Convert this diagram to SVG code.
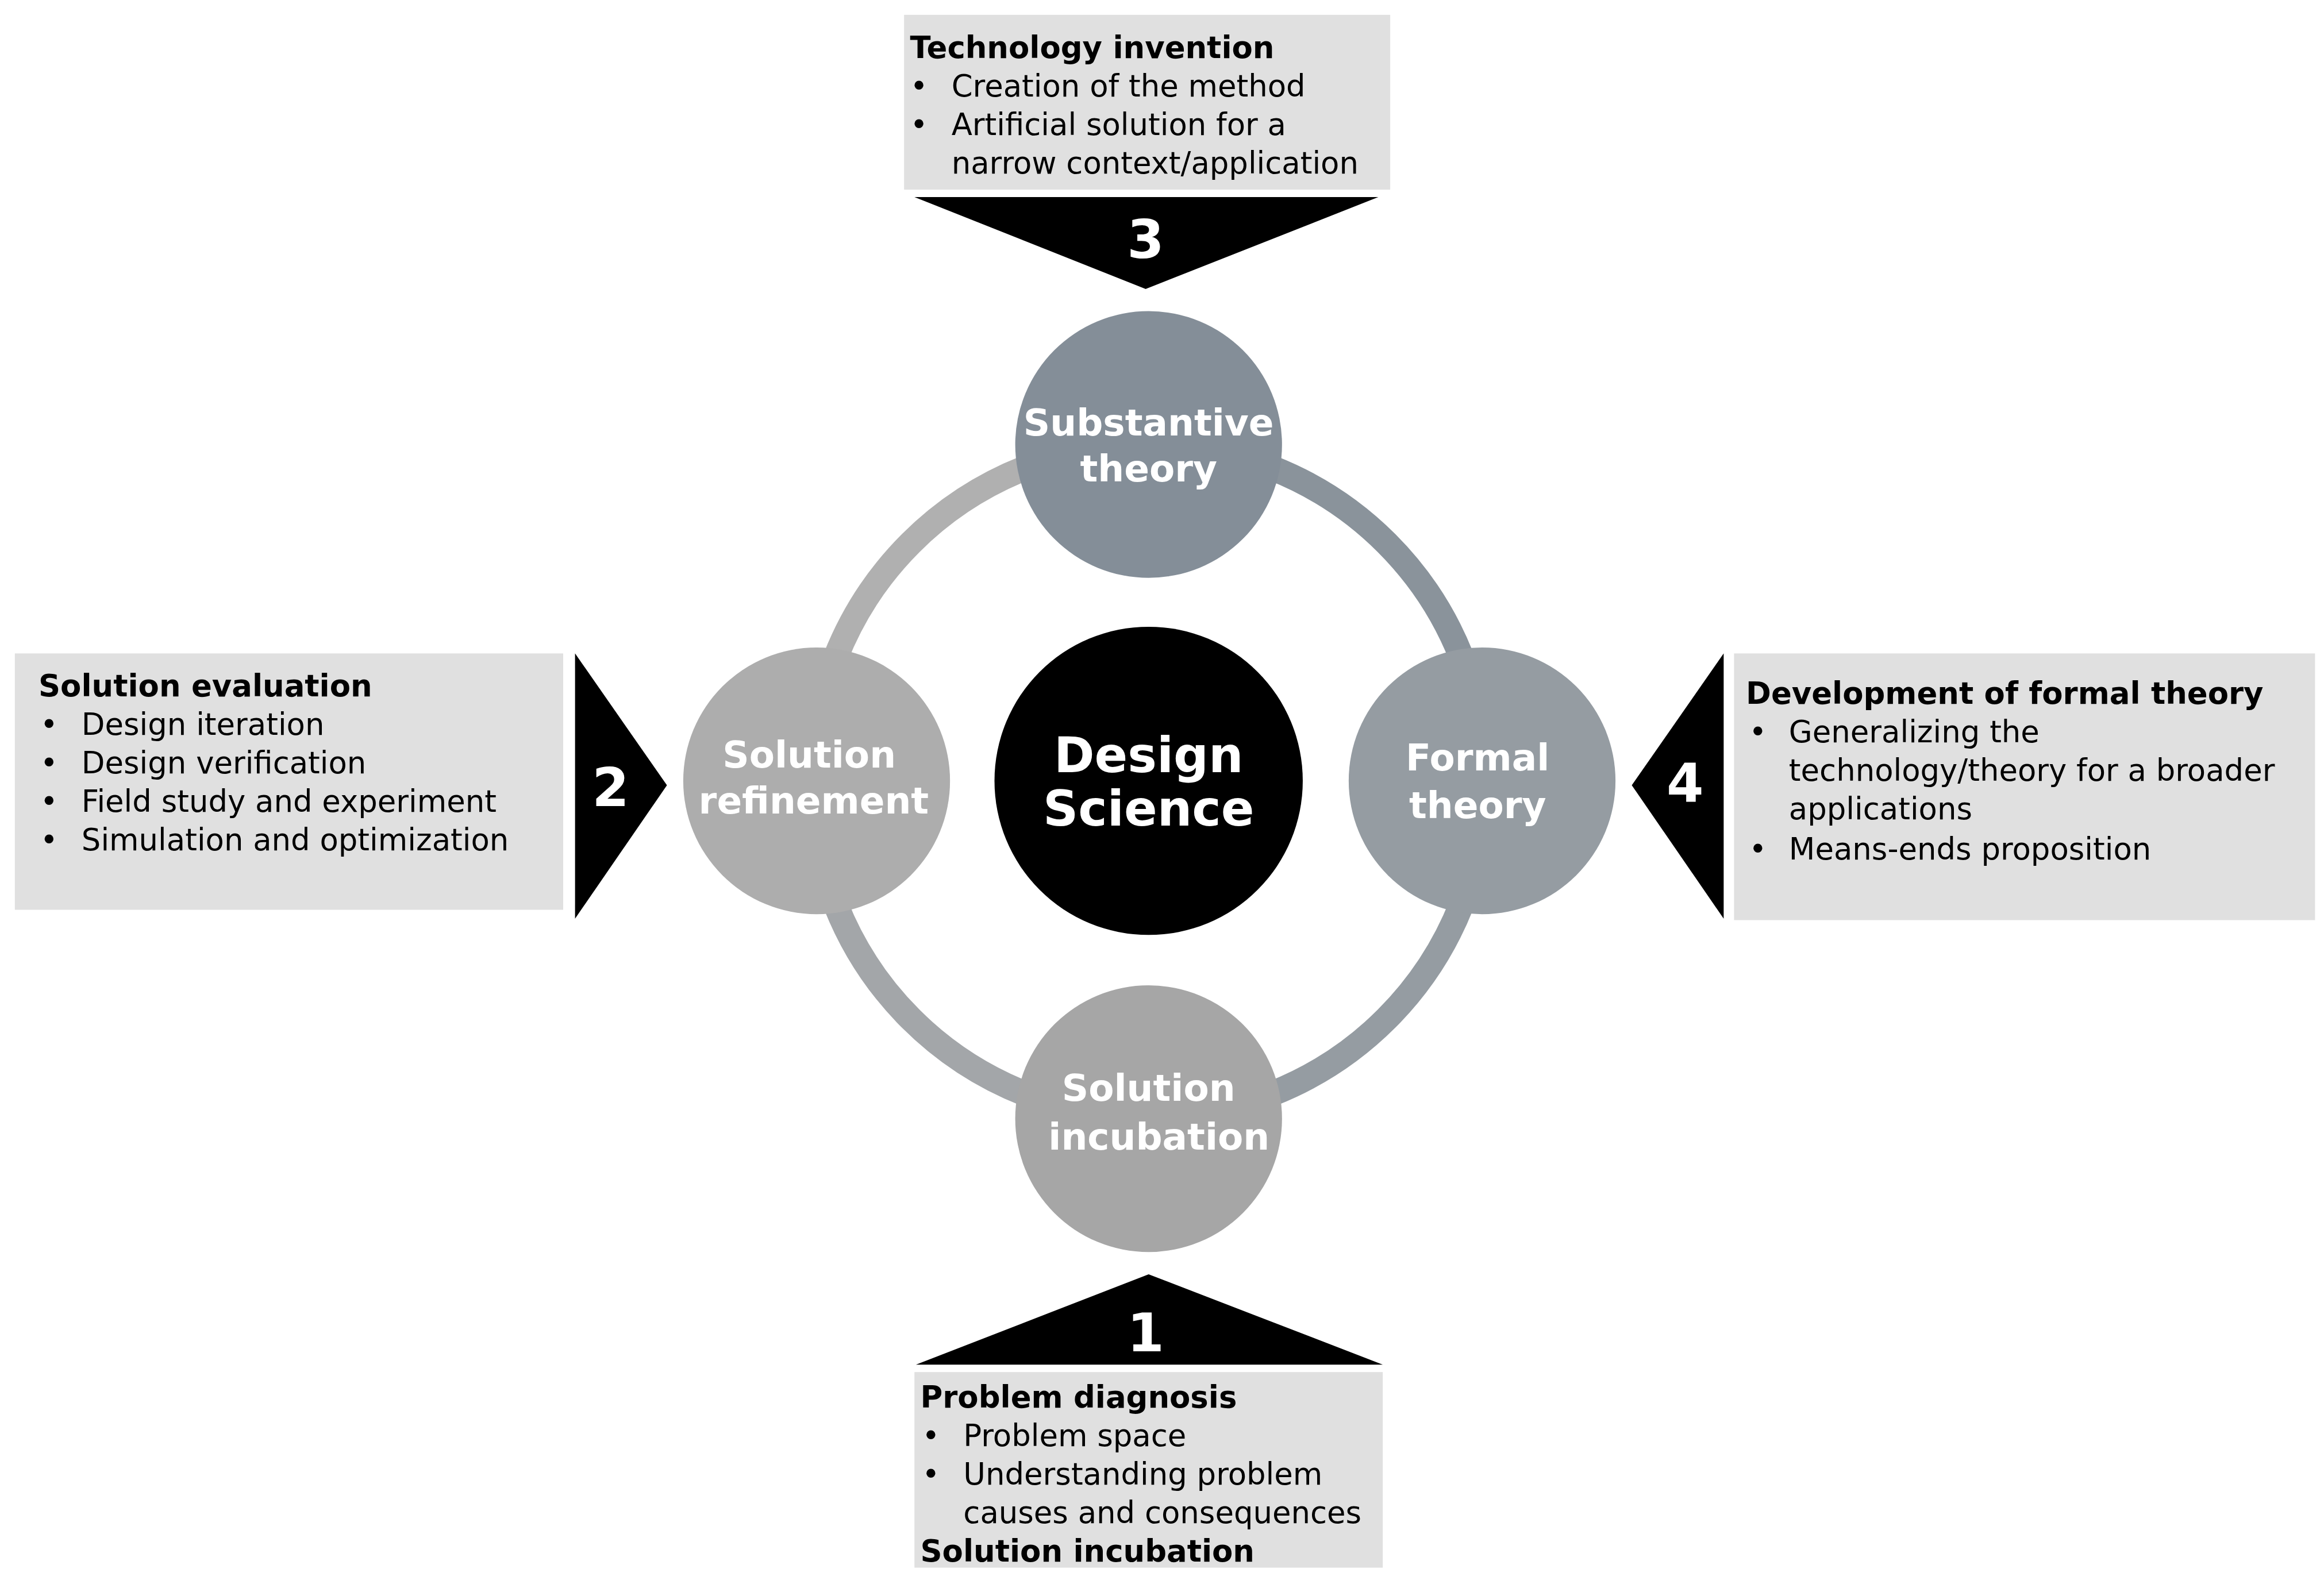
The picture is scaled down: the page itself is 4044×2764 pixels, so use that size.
<svg xmlns="http://www.w3.org/2000/svg" width="4044" height="2764" viewBox="0 0 4044 2764">
<style>
.box{fill:#e0e0e0}
.tri{fill:#000}
.t{font-family:"DejaVu Sans",Verdana,sans-serif;font-size:20.5px;fill:#000}
.b{font-weight:bold}
.num{font-family:"DejaVu Sans",Verdana,sans-serif;font-size:36px;font-weight:bold;fill:#fff;text-anchor:middle}
.cl{font-family:"DejaVu Sans",Verdana,sans-serif;font-size:25px;font-weight:bold;fill:#fff;text-anchor:middle}
.arc{fill:none;stroke-width:17}
</style>
<rect width="4044" height="2764" fill="#fff"/>
<g transform="scale(2.579)">
<g id="connectors">
<path class="arc" stroke="#b0b0b0" d="M548,527 A227,227 0 0 1 775,300"/>
<path class="arc" stroke="#8a939b" d="M775,300 A227,227 0 0 1 1002,527"/>
<path class="arc" stroke="#959ca2" d="M1002,527 A227,227 0 0 1 775,754"/>
<path class="arc" stroke="#a3a6a9" d="M775,754 A227,227 0 0 1 548,527"/>
</g>
<g id="center"><circle cx="775" cy="527" r="104" fill="#000"/>
<text class="cl" style="font-size:33px" x="775" y="521">Design</text>
<text class="cl" style="font-size:33px" x="775" y="557">Science</text></g>
<g id="substantive"><circle cx="775" cy="300" r="90" fill="#848e98"/>
<text class="cl" x="775" y="294">Substantive</text><text class="cl" x="775" y="325">theory</text></g>
<g id="refinement"><circle cx="551" cy="527" r="90" fill="#adadad"/>
<text class="cl" x="546" y="518">Solution</text><text class="cl" x="549" y="549">refinement</text></g>
<g id="formal"><circle cx="1000" cy="527" r="90" fill="#959ca2"/>
<text class="cl" x="997" y="520">Formal</text><text class="cl" x="997" y="552">theory</text></g>
<g id="incubation"><circle cx="775" cy="755" r="90" fill="#a6a6a6"/>
<text class="cl" x="775" y="743">Solution</text><text class="cl" x="782" y="776">incubation</text></g>
<g id="step3"><rect class="box" x="610" y="10" width="328" height="118"/>
<polygon class="tri" points="617,133 930,133 773,195"/>
<text class="num" x="773" y="174">3</text>
<text class="t b" x="614" y="39">Technology invention</text>
<text class="t" x="614" y="65">•</text><text class="t" x="642" y="65">Creation of the method</text>
<text class="t" x="614" y="91">•</text><text class="t" x="642" y="91">Artificial solution for a</text>
<text class="t" x="642" y="117">narrow context/application</text></g>
<g id="step2"><rect class="box" x="10" y="441" width="370" height="173"/>
<polygon class="tri" points="388,441 450,530 388,620"/>
<text class="num" x="412" y="544">2</text>
<text class="t b" x="26" y="470">Solution evaluation</text>
<text class="t" x="27" y="496">•</text><text class="t" x="55" y="496">Design iteration</text>
<text class="t" x="27" y="522">•</text><text class="t" x="55" y="522">Design verification</text>
<text class="t" x="27" y="548">•</text><text class="t" x="55" y="548">Field study and experiment</text>
<text class="t" x="27" y="574">•</text><text class="t" x="55" y="574">Simulation and optimization</text></g>
<g id="step4"><rect class="box" x="1170" y="441" width="392" height="180"/>
<polygon class="tri" points="1163,441 1101,530 1163,620"/>
<text class="num" x="1137" y="541">4</text>
<text class="t b" x="1178" y="475">Development of formal theory</text>
<text class="t" x="1180" y="501">•</text><text class="t" x="1207" y="501">Generalizing the</text>
<text class="t" x="1207" y="527">technology/theory for a broader</text>
<text class="t" x="1207" y="553">applications</text>
<text class="t" x="1180" y="580">•</text><text class="t" x="1207" y="580">Means-ends proposition</text></g>
<g id="step1"><polygon class="tri" points="618,921 933,921 775,860"/>
<text class="num" x="773" y="912">1</text>
<rect class="box" x="617" y="926" width="316" height="132"/>
<text class="t b" x="621" y="950">Problem diagnosis</text>
<text class="t" x="622" y="976">•</text><text class="t" x="650" y="976">Problem space</text>
<text class="t" x="622" y="1002">•</text><text class="t" x="650" y="1002">Understanding problem</text>
<text class="t" x="650" y="1028">causes and consequences</text>
<text class="t b" x="621" y="1054">Solution incubation</text></g>
</g>
</svg>
